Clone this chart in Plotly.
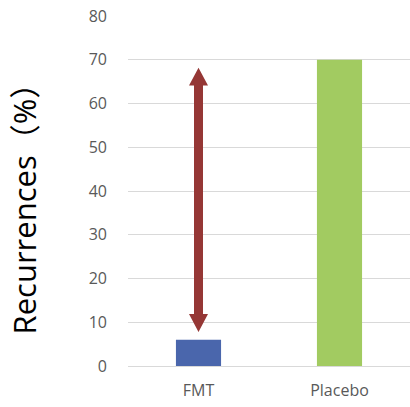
import plotly.graph_objects as go

# Recurrence rates by treatment group
groups = ["FMT", "Placebo"]
recurrence_pct = [6, 70]
bar_colors = ["#4A66AC", "#A2CB61"]

# Span of the double-headed arrow highlighting the difference (in %)
arrow_span = [7.8, 68.2]
y_ticks = [0, 10, 20, 30, 40, 50, 60, 70, 80]

FONT = "'Open Sans', 'Noto Sans CJK JP', sans-serif"

fig = go.Figure()
fig.add_trace(go.Bar(
    x=groups,
    y=recurrence_pct,
    marker=dict(color=bar_colors, line=dict(width=0)),
    width=0.32,
    hoverinfo="skip",
))

# Double-headed arrow drawn as a filled path: x in pixels around the FMT
# category centre, y in data units.
lo, hi = arrow_span
head_len = 4.1       # data units
shaft_half = 4.5     # px
head_half = 9.5      # px
path = (
    f"M0,{lo} "
    f"L{head_half},{lo + head_len} L{shaft_half},{lo + head_len} "
    f"L{shaft_half},{hi - head_len} L{head_half},{hi - head_len} "
    f"L0,{hi} "
    f"L{-head_half},{hi - head_len} L{-shaft_half},{hi - head_len} "
    f"L{-shaft_half},{lo + head_len} L{-head_half},{lo + head_len} Z"
)
fig.add_shape(
    type="path",
    xref="x", yref="y",
    xsizemode="pixel", xanchor=0,
    path=path,
    fillcolor="#953735",
    line=dict(width=0),
    layer="above",
)

fig.add_annotation(
    text="Recurrences（%）",
    xref="paper", yref="paper",
    x=(23 - 128) / 282, y=0.47,
    xanchor="center", yanchor="middle",
    textangle=-90,
    showarrow=False,
    font=dict(family=FONT, size=31, color="#000000"),
)

fig.update_layout(
    width=410, height=407,
    margin=dict(l=128, r=0, t=16, b=41),
    paper_bgcolor="white",
    plot_bgcolor="white",
    showlegend=False,
    bargap=0.68,
    xaxis=dict(
        showgrid=False,
        showline=False,
        zeroline=False,
        ticks="",
        ticklabelstandoff=13,
        tickfont=dict(family=FONT, size=16, color="#595959"),
    ),
    yaxis=dict(
        range=[0, 80],
        tickvals=y_ticks,
        showgrid=True,
        gridcolor="#D9D9D9",
        gridwidth=1,
        zeroline=True,
        zerolinecolor="#D9D9D9",
        zerolinewidth=1,
        showline=False,
        ticks="",
        ticklabelstandoff=20,
        tickfont=dict(family=FONT, size=16, color="#595959"),
    ),
)

fig.write_html("out.html")
